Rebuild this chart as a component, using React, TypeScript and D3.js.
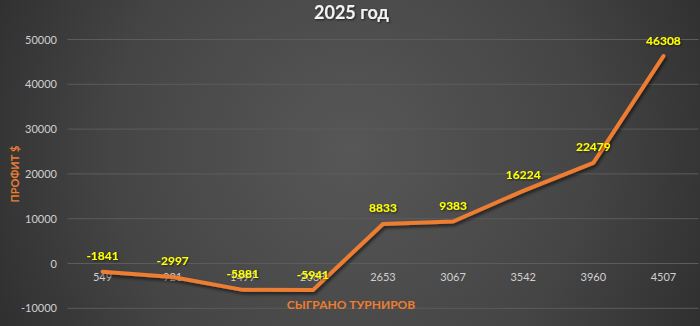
import React from "react";
import * as d3 from "d3";

const categories = ["549", "921", "1497", "2083", "2653", "3067", "3542", "3960", "4507"];
const profit = [-1841, -2997, -5881, -5941, 8833, 9383, 16224, 22479, 46308];
const yTicks = [-10000, 0, 10000, 20000, 30000, 40000, 50000];
const title = "2025 год";
const xTitle = "СЫГРАНО ТУРНИРОВ";
const yTitle = "ПРОФИТ $";

const W = 700;
const H = 326;
const FONT = "Lato, 'Open Sans', sans-serif";

export default function App() {
  React.useEffect(() => {
    document.body.style.margin = "0";
  }, []);

  const x = d3.scaleBand<string>().domain(categories).range([67.5, 698.5]).padding(0);
  const y = d3.scaleLinear().domain([-10000, 50000]).range([308.3, 39.5]);
  const cx = (c: string) => (x(c) ?? 0) + x.bandwidth() / 2;

  const pts = categories.map((c, i) => [cx(c), y(profit[i])] as [number, number]);
  const line = d3.line().curve(d3.curveLinear)(pts) ?? "";

  return (
    <svg width={W} height={H} style={{ display: "block" }} fontFamily={FONT}>
      <defs>
        <radialGradient id="bg" cx="350" cy="150" r="430" gradientUnits="userSpaceOnUse">
          <stop offset="0" stopColor="#575757" />
          <stop offset="0.55" stopColor="#454545" />
          <stop offset="1" stopColor="#2a2a2a" />
        </radialGradient>
        <filter id="shadow" x="-10%" y="-10%" width="120%" height="130%">
          <feDropShadow dx="1.5" dy="2.5" stdDeviation="1.5" floodColor="#000" floodOpacity="0.55" />
        </filter>
        <filter id="tshadow" x="-10%" y="-20%" width="120%" height="150%">
          <feDropShadow dx="1" dy="1" stdDeviation="0.8" floodColor="#000" floodOpacity="0.6" />
        </filter>
      </defs>
      <rect x={0} y={0} width={W} height={H} fill="url(#bg)" />

      {/* gridlines */}
      {yTicks.map((t) => (
        <line key={t} x1={67.5} x2={698.5} y1={y(t)} y2={y(t)} stroke="#5c5c5c" strokeWidth={1} />
      ))}

      {/* y tick labels */}
      {yTicks.map((t) => (
        <text key={t} x={57} y={y(t) + 4} textAnchor="end" fontSize={11} fill="#d0d0d0">
          {t}
        </text>
      ))}

      {/* x tick labels */}
      {categories.map((c) => (
        <text key={c} x={cx(c)} y={281} textAnchor="middle" fontSize={11} fill="#d0d0d0">
          {c}
        </text>
      ))}

      {/* line */}
      <path d={line} fill="none" stroke="#ed7d31" strokeWidth={4} strokeLinejoin="round" strokeLinecap="round" filter="url(#shadow)" />

      {/* data labels */}
      {pts.map((p, i) => (
        <text key={i} x={p[0]} y={p[1] - 11.5} textAnchor="middle" fontSize={12} fontWeight="bold" fill="#ffff00" filter="url(#tshadow)">
          {profit[i]}
        </text>
      ))}

      {/* title */}
      <text x={351.5} y={19} textAnchor="middle" fontSize={18} fontWeight="bold" fill="#f2f2f2" filter="url(#tshadow)">
        {title}
      </text>

      {/* axis titles */}
      <text x={351} y={309} textAnchor="middle" fontSize={12} fontWeight="bold" fill="#ed7d31">
        {xTitle}
      </text>
      <text transform={`translate(19,174) rotate(-90)`} textAnchor="middle" fontSize={11} fontWeight="bold" fill="#ed7d31">
        {yTitle}
      </text>
    </svg>
  );
}
